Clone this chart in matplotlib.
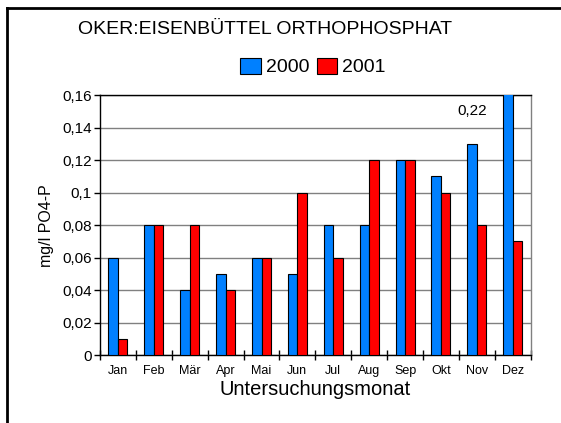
import numpy as np
import matplotlib
matplotlib.use("Agg")
from matplotlib import pyplot as plt
from matplotlib.lines import Line2D
from matplotlib.patches import Patch
from matplotlib.ticker import FuncFormatter, FixedLocator

plt.rcParams['font.family'] = ['Liberation Sans', 'DejaVu Sans']

months = ["Jan", "Feb", "Mär", "Apr", "Mai", "Jun", "Jul", "Aug", "Sep", "Okt", "Nov", "Dez"]
values_2000 = [0.06, 0.08, 0.04, 0.05, 0.06, 0.05, 0.08, 0.08, 0.12, 0.11, 0.13, 0.22]
values_2001 = [0.01, 0.08, 0.08, 0.04, 0.06, 0.10, 0.06, 0.12, 0.12, 0.10, 0.08, 0.07]
series_labels = ["2000", "2001"]

BLUE = "#0080FF"
RED = "#FF0000"
Y_MAX = 0.16

fig = plt.figure(figsize=(5.61, 4.23), dpi=100)
ax = fig.add_axes([100 / 561, 1 - 355 / 423, 430.7 / 561, 259.7 / 423])

x = np.arange(len(months))
bw = 0.265
ax.bar(x - bw / 2, values_2000, bw, color=BLUE, edgecolor="black", linewidth=0.8, zorder=3)
ax.bar(x + bw / 2, values_2001, bw, color=RED, edgecolor="black", linewidth=0.8, zorder=3)

ax.set_xlim(-0.5, len(months) - 0.5)
ax.set_ylim(0, Y_MAX)

# value above the axis limit gets a text label
for i, v in enumerate(values_2000):
    if v > Y_MAX:
        ax.text(i - 1.14, 0.1505, f"{v:g}".replace(".", ","), ha="center", va="center",
                fontsize=11, zorder=4)

ax.yaxis.set_major_locator(FixedLocator(np.arange(0, 0.1601, 0.02)))
ax.yaxis.set_major_formatter(FuncFormatter(lambda v, p: f"{v:g}".replace(".", ",")))
ax.grid(axis="y", color="#808080", linewidth=1, zorder=0)
ax.tick_params(axis="y", direction="out", length=4, width=1, labelsize=11, pad=2)

ax.set_xticks(x)
ax.set_xticklabels(months)
ax.set_xticks(np.arange(-0.5, len(months)), minor=True)
ax.tick_params(axis="x", which="major", length=0, labelsize=9, pad=7)
ax.tick_params(axis="x", which="minor", direction="inout", length=7, width=1)

ax.spines["left"].set_color("black")
ax.spines["bottom"].set_color("black")
ax.spines["top"].set_color("black")
ax.spines["right"].set_color("#808080")
for s in ax.spines.values():
    s.set_linewidth(1)

ax.set_xlabel("Untersuchungsmonat", fontsize=14.5, labelpad=2)
ax.set_ylabel("mg/l PO4-P", fontsize=11.5, labelpad=6)

fig.text(265 / 561, 1 - 30 / 423, "OKER:EISENBÜTTEL ORTHOPHOSPHAT", ha="center", va="center", fontsize=14)

handles = [Patch(facecolor=BLUE, edgecolor="black", linewidth=0.8),
           Patch(facecolor=RED, edgecolor="black", linewidth=0.8)]
fig.legend(handles, series_labels, loc="center", bbox_to_anchor=(313 / 561, 1 - 67 / 423),
           ncol=2, frameon=False, fontsize=14, handlelength=1.05, handleheight=0.9,
           handletextpad=0.25, columnspacing=0.4, borderpad=0)

# outer chart frame (left and top edges visible)
fig.add_artist(Line2D([7 / 561, 7 / 561], [0, 1 - 8 / 423], color="black", linewidth=2,
                      transform=fig.transFigure))
fig.add_artist(Line2D([7 / 561, 1], [1 - 8 / 423, 1 - 8 / 423], color="black", linewidth=2,
                      transform=fig.transFigure))

fig.savefig("out.png", dpi=100)
